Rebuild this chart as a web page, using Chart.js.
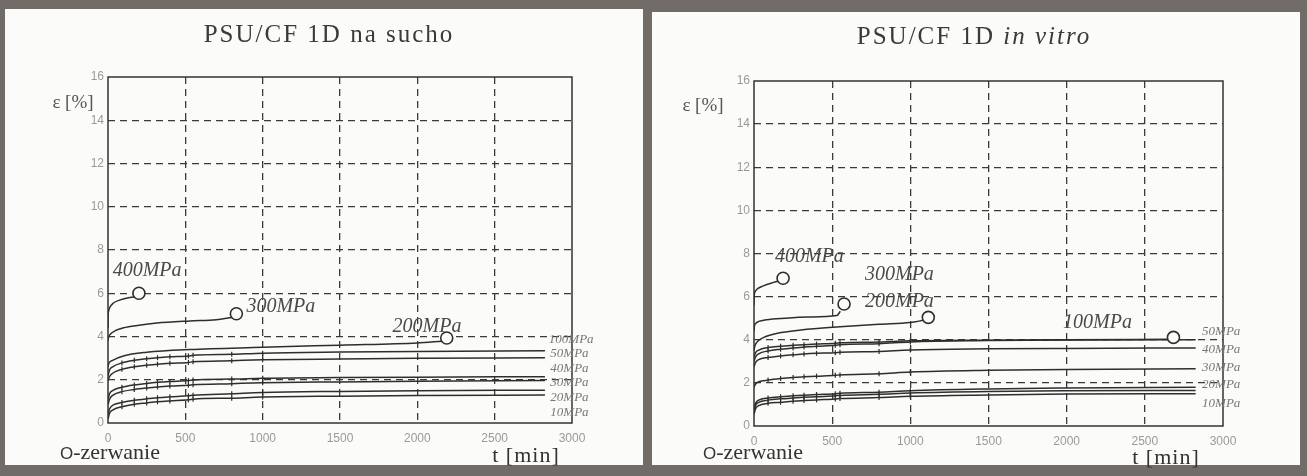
<!DOCTYPE html>
<html>
<head>
<meta charset="utf-8">
<script src="https://cdn.jsdelivr.net/npm/chart.js@4.4.1/dist/chart.umd.min.js"></script>
<style>
    body { margin: 0; width: 1307px; height: 476px; overflow: hidden; background: #716c67; position: relative; font-family: "Liberation Serif", serif; }
    .panel { position: absolute; background: #fbfbf9; }
    .panel canvas { position: absolute; left: 0; top: 0; }
    .txt { position: absolute; white-space: nowrap; color: #333; line-height: 1; transform: translate(-50%, -50%); }
    .title { font-size: 25px; letter-spacing: 2px; color: #3a3a3a; }
    .ylab { font-size: 19px; color: #555; }
    .xlab { font-size: 22px; letter-spacing: 1px; color: #333; }
    .legend { font-size: 22px; color: #333; }
    .legend span { font-family: "Liberation Sans", sans-serif; font-size: 17px; }
</style>
</head>
<body>
<div class="panel" id="leftPanel" style="left:5px;top:9px;width:638px;height:456px;">
    <canvas id="sucho" width="638" height="456"></canvas>
</div>
<div class="panel" id="rightPanel" style="left:652px;top:12px;width:648px;height:453px;">
    <canvas id="vitro" width="648" height="453"></canvas>
</div>

<div class="txt title" style="left:329px;top:33px;">PSU/CF 1D na sucho</div>
<div class="txt title" style="left:974px;top:35px;">PSU/CF 1D <i>in vitro</i></div>
<div class="txt ylab" style="left:73px;top:101px;">ε [%]</div>
<div class="txt ylab" style="left:703px;top:104px;">ε [%]</div>
<div class="txt xlab" style="left:526px;top:455px;">t [min]</div>
<div class="txt xlab" style="left:1166px;top:457px;">t [min]</div>
<div class="txt legend" style="left:110px;top:452px;"><span>O</span>-zerwanie</div>
<div class="txt legend" style="left:753px;top:452px;"><span>O</span>-zerwanie</div>

<script>
// measurement times shared by the low-stress creep curves
const tCreep = [0, 10, 30, 90, 170, 250, 320, 400, 520, 550, 800, 1000, 1500, 2000, 2825];

// ---- na sucho (dry) ----
const tSucho400 = [0, 0.5, 3, 12, 35, 75, 125, 185];
const eSucho400 = [4.4, 4.9, 5.15, 5.35, 5.55, 5.68, 5.78, 5.85];
const tSucho300 = [0, 3, 15, 50, 100, 200, 315, 530, 700, 800];
const eSucho300 = [3.8, 3.95, 4.1, 4.28, 4.4, 4.52, 4.62, 4.72, 4.78, 4.88];
const tSucho200 = [0, 5, 30, 100, 250, 530, 1000, 1500, 2000, 2160];
const eSucho200 = [2.6, 2.75, 2.9, 3.1, 3.27, 3.4, 3.5, 3.6, 3.7, 3.78];
const eSucho100 = [2.2, 2.45, 2.6, 2.78, 2.9, 2.97, 3.02, 3.06, 3.1, 3.13, 3.18, 3.23, 3.28, 3.31, 3.34];
const eSucho50 = [1.95, 2.15, 2.3, 2.48, 2.6, 2.67, 2.72, 2.76, 2.8, 2.83, 2.88, 2.92, 2.96, 2.99, 3.02];
const eSucho40 = [1.1, 1.35, 1.5, 1.65, 1.76, 1.83, 1.88, 1.92, 1.96, 1.99, 2.03, 2.07, 2.1, 2.12, 2.14];
const eSucho30 = [0.85, 1.1, 1.28, 1.45, 1.55, 1.62, 1.67, 1.71, 1.75, 1.77, 1.82, 1.86, 1.9, 1.93, 1.96];
const eSucho20 = [0.4, 0.65, 0.82, 0.95, 1.05, 1.12, 1.17, 1.21, 1.26, 1.28, 1.35, 1.41, 1.46, 1.49, 1.52];
const eSucho10 = [0.2, 0.45, 0.6, 0.75, 0.87, 0.93, 0.98, 1.02, 1.07, 1.1, 1.15, 1.2, 1.24, 1.27, 1.29];
const breaksSucho = [[200, 6.0], [830, 5.05], [2190, 3.93]];

// ---- in vitro ----
const tVitro400 = [0, 1, 5, 20, 60, 120, 170];
const eVitro400 = [5.6, 6.0, 6.2, 6.35, 6.5, 6.65, 6.75];
const tVitro300 = [0, 2, 10, 30, 80, 200, 350, 530, 552];
const eVitro300 = [4.4, 4.6, 4.75, 4.85, 4.93, 5.0, 5.05, 5.12, 5.32];
const tVitro200 = [0, 5, 20, 60, 150, 300, 550, 800, 1000, 1085];
const eVitro200 = [3.5, 3.7, 3.9, 4.1, 4.3, 4.45, 4.6, 4.72, 4.8, 4.9];
const tVitro100 = [0, 10, 30, 90, 170, 250, 320, 400, 520, 550, 800, 1000, 1500, 2000, 2650];
const eVitro100 = [3.2, 3.4, 3.52, 3.64, 3.7, 3.74, 3.77, 3.8, 3.84, 3.86, 3.9, 3.95, 3.98, 4.0, 4.02];
const eVitro50 = [3.0, 3.2, 3.35, 3.48, 3.56, 3.62, 3.66, 3.7, 3.74, 3.77, 3.82, 3.9, 3.96, 3.99, 4.0];
const eVitro40 = [2.75, 2.95, 3.08, 3.18, 3.25, 3.3, 3.34, 3.37, 3.4, 3.42, 3.46, 3.53, 3.58, 3.6, 3.62];
const eVitro30 = [1.8, 1.95, 2.05, 2.13, 2.2, 2.25, 2.28, 2.31, 2.35, 2.37, 2.42, 2.5, 2.58, 2.62, 2.65];
const eVitro20 = [0.8, 1.05, 1.2, 1.3, 1.36, 1.4, 1.43, 1.46, 1.5, 1.52, 1.57, 1.64, 1.72, 1.76, 1.8];
const eVitro10a = [0.7, 0.95, 1.1, 1.2, 1.26, 1.3, 1.33, 1.36, 1.4, 1.42, 1.47, 1.53, 1.6, 1.63, 1.65];
const eVitro10b = [0.55, 0.8, 0.95, 1.05, 1.1, 1.15, 1.18, 1.21, 1.25, 1.27, 1.32, 1.38, 1.44, 1.48, 1.5];
const breaksVitro = [[186, 6.85], [576, 5.66], [1115, 5.04], [2683, 4.11]];

// stress labels: [text, t, eps]
const bigLabelsSucho = [['400MPa', 30, 6.8], ['300MPa', 895, 5.15], ['200MPa', 1840, 4.22]];
const bigLabelsVitro = [['400MPa', 134, 7.6], ['300MPa', 710, 6.77], ['200MPa', 710, 5.53], ['100MPa', 1977, 4.53]];
const smallLabelsSucho = [['100MPa', 2850, 3.87], ['50MPa', 2860, 3.22], ['40MPa', 2860, 2.53], ['30MPa', 2860, 1.88], ['20MPa', 2860, 1.17], ['10MPa', 2860, 0.5]];
const smallLabelsVitro = [['50MPa', 2866, 4.4], ['40MPa', 2866, 3.56], ['30MPa', 2866, 2.72], ['20MPa', 2866, 1.9], ['10MPa', 2866, 1.05]];

const ink = '#2e2e2e';

function curve(ts, es) {
    return ts.map((t, i) => ({x: t, y: es[i]}));
}

const annotate = {
    id: 'annotate',
    beforeDatasetsDraw(chart) {
        const a = chart.chartArea;
        const ctx = chart.ctx;
        ctx.save();
        ctx.strokeStyle = '#333';
        ctx.lineWidth = 1.5;
        ctx.strokeRect(a.left, a.top, a.right - a.left, a.bottom - a.top);
        ctx.restore();
    },
    afterDatasetsDraw(chart, args, opts) {
        const ctx = chart.ctx;
        const x = chart.scales.x, y = chart.scales.y;
        ctx.save();
        ctx.textAlign = 'left';
        ctx.fillStyle = '#4a4a4a';
        ctx.font = 'italic 20px "Liberation Serif"';
        ctx.textBaseline = 'alphabetic';
        opts.big.forEach(l => ctx.fillText(l[0], x.getPixelForValue(l[1]), y.getPixelForValue(l[2])));
        ctx.fillStyle = '#777';
        ctx.font = 'italic 13px "Liberation Serif"';
        ctx.textBaseline = 'middle';
        opts.small.forEach(l => ctx.fillText(l[0], x.getPixelForValue(l[1]), y.getPixelForValue(l[2])));
        ctx.restore();
    }
};

function makeChart(id, lines, breaks, big, small, pad) {
    const datasets = lines.map(l => ({
        data: curve(l[0], l[1]),
        borderColor: ink,
        borderWidth: 1.5,
        cubicInterpolationMode: 'monotone',
        pointStyle: 'line',
        pointRotation: 90,
        pointRadius: c => (l[2] && c.raw && c.raw.x >= 80 && c.raw.x <= 1000) ? 2.5 : 0,
        pointBorderColor: ink,
        pointBorderWidth: 1.2,
        order: 1
    }));
    datasets.push({
        type: 'scatter',
        data: breaks.map(b => ({x: b[0], y: b[1]})),
        pointRadius: 6,
        pointBorderWidth: 1.6,
        pointBorderColor: ink,
        pointBackgroundColor: '#fbfbf9',
        order: 0
    });

    const tickFont = {family: '"Liberation Sans", sans-serif', size: 12};

    return new Chart(document.getElementById(id), {
        type: 'line',
        data: {datasets: datasets},
        options: {
            responsive: false,
            animation: false,
            devicePixelRatio: 1,
            events: [],
            layout: {padding: pad},
            plugins: {
                legend: {display: false},
                tooltip: {enabled: false},
                annotate: {big: big, small: small}
            },
            scales: {
                x: {
                    type: 'linear', min: 0, max: 3000,
                    afterFit: s => { s.height = 24; },
                    ticks: {stepSize: 500, padding: 8, color: '#9a9a9a', font: tickFont, maxRotation: 0, callback: v => String(v)},
                    grid: {
                        color: c => (c.tick && c.tick.value > 0 && c.tick.value < 3000) ? '#3a3a3a' : 'rgba(0,0,0,0)',
                        lineWidth: 1.3, drawTicks: false
                    },
                    border: {display: false, dash: [7, 5]}
                },
                y: {
                    type: 'linear', min: 0, max: 16,
                    afterFit: s => { s.width = 30; },
                    ticks: {stepSize: 2, padding: 4, color: '#9a9a9a', font: tickFont, callback: v => String(v)},
                    grid: {
                        color: c => (c.tick && c.tick.value > 0 && c.tick.value < 16) ? '#3a3a3a' : 'rgba(0,0,0,0)',
                        lineWidth: 1.3, drawTicks: false
                    },
                    border: {display: false, dash: [7, 5]}
                }
            }
        },
        plugins: [annotate]
    });
}

makeChart('sucho', [
    [tSucho400, eSucho400, false],
    [tSucho300, eSucho300, false],
    [tSucho200, eSucho200, false],
    [tCreep, eSucho100, true],
    [tCreep, eSucho50, true],
    [tCreep, eSucho40, true],
    [tCreep, eSucho30, true],
    [tCreep, eSucho20, true],
    [tCreep, eSucho10, true]
], breaksSucho, bigLabelsSucho, smallLabelsSucho, {left: 73, right: 71, top: 68, bottom: 18});

makeChart('vitro', [
    [tVitro400, eVitro400, false],
    [tVitro300, eVitro300, false],
    [tVitro200, eVitro200, false],
    [tVitro100, eVitro100, true],
    [tCreep, eVitro50, true],
    [tCreep, eVitro40, true],
    [tCreep, eVitro30, true],
    [tCreep, eVitro20, true],
    [tCreep, eVitro10a, true],
    [tCreep, eVitro10b, true]
], breaksVitro, bigLabelsVitro, smallLabelsVitro, {left: 72, right: 77, top: 69, bottom: 15});
</script>
</body>
</html>
